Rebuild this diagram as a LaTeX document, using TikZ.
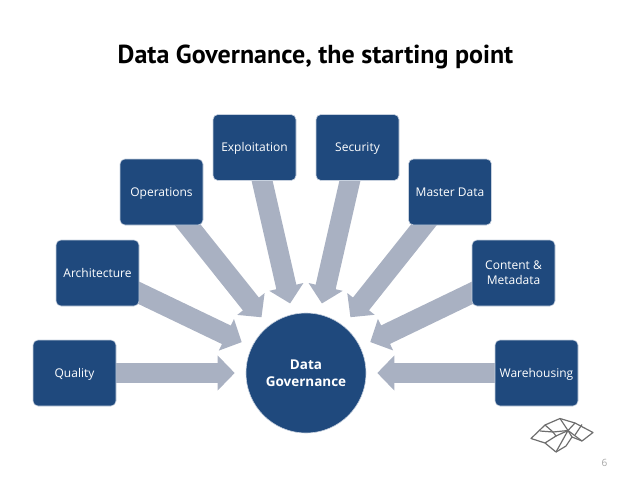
\documentclass[tikz,border=0pt]{standalone}
\usepackage{fontspec}
\setmainfont{Open Sans}
\newfontfamily\titlefont{PT Sans}
\usetikzlibrary{arrows.meta,backgrounds}
\definecolor{boxblue}{HTML}{1F497D}
\definecolor{arrowgrey}{HTML}{A9B1C2}
\definecolor{logogrey}{HTML}{6E6E6E}
\tikzset{
  topicbox/.style={rectangle, rounded corners=5pt, fill=boxblue, draw=boxblue!25, line width=.6pt, minimum width=83pt, minimum height=66pt, inner sep=0pt, align=center, text=white, font=\fontsize{12}{15}\selectfont},
  oneline/.style={text height=10pt, text depth=1.8pt},
  blockarrow/.style={draw=arrowgrey, line width=20.5pt, -{Triangle[length=17pt, width=34pt, fill=arrowgrey]}, shorten >=11pt},
  logoline/.style={draw=logogrey, line width=1.2pt, line join=round}
}
\begin{document}
\begin{tikzpicture}[x=1pt, y=-1pt]
\useasboundingbox (0,0) rectangle (638,479);
\node[font=\fontsize{26}{29}\titlefont\bfseries] (title) at (315.5,57){Data Governance, the starting point};
\node[circle, minimum size=120pt, inner sep=0pt, fill=boxblue, draw=boxblue!25, line width=.6pt, text=white, align=center, font=\fontsize{13.5}{17}\selectfont\bfseries] (data) at (306,373){Data\\Governance};
\node[topicbox, oneline] (quality) at (74.5,373){Quality};
\node[topicbox, oneline] (architecture) at (97.5,273){Architecture};
\node[topicbox, oneline] (operations) at (161.5,192){Operations};
\node[topicbox, oneline] (exploitation) at (254.5,147.5){Exploitation};
\node[topicbox, oneline] (security) at (357.5,147.5){Security};
\node[topicbox, oneline] (masterdata) at (450,192){Master Data};
\node[topicbox] (content) at (513.5,273){Content \&\\Metadata};
\node[topicbox, oneline] (warehousing) at (536.5,373){Warehousing};
\begin{pgfonlayer}{background}
\draw[blockarrow] (quality.center) -- (data);
\draw[blockarrow] (architecture.center) -- (data);
\draw[blockarrow] (operations.center) -- (data);
\draw[blockarrow] (exploitation.center) -- (data);
\draw[blockarrow] (security.center) -- (data);
\draw[blockarrow] (masterdata.center) -- (data);
\draw[blockarrow] (content.center) -- (data);
\draw[blockarrow] (warehousing.center) -- (data);
\end{pgfonlayer}
% logo
\draw[logoline] (531,438.5) -- (545,425) -- (560,418.5) -- (575,423) -- (593,432.5) -- (582,441) -- (572,437) -- (566,446) -- (556,452) -- (545,443) -- cycle;
\draw[logoline] (545,425) -- (553,432) -- (568,430.5) -- (575,423);
\draw[logoline] (560,418.5) -- (568,430.5) -- (572,437);
\draw[logoline] (553,432) -- (556,436) -- (545,443);
\draw[logoline] (556,436) -- (568,430.5) -- (556,452);
\draw[logoline] (568,430.5) -- (582,441);
\draw[logoline] (582,424.5) -- (575,435);
\draw[logoline] (540,431) -- (553,432);
\node[text=gray!70, font=\fontsize{10}{12}\selectfont] (pagenum) at (604.5,463){6};
\end{tikzpicture}
\end{document}
